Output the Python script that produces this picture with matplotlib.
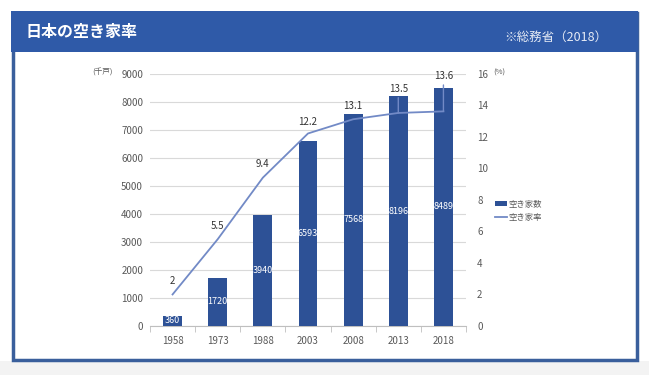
import matplotlib
matplotlib.use("Agg")
import matplotlib.pyplot as plt
from matplotlib.patches import Rectangle, Patch
from matplotlib.lines import Line2D
import numpy as np

plt.rcParams['font.family'] = ['Noto Sans CJK JP', 'DejaVu Sans']

years = ['1958', '1973', '1988', '2003', '2008', '2013', '2018']
vacant_houses = [360, 1720, 3940, 6593, 7568, 8196, 8489]
vacancy_rate = [2, 5.5, 9.4, 12.2, 13.1, 13.5, 13.6]
rate_labels = ['2', '5.5', '9.4', '12.2', '13.1', '13.5', '13.6']

title = '日本の空き家率'
source = '※総務省（2018）'

# label offsets in points above each point (Excel-style moved labels)
label_offsets = [6, 6, 6, 5, 6, 14, 22]
leader = [False, False, False, False, False, True, True]

W, H = 649, 375
fig = plt.figure(figsize=(W/100, H/100), dpi=100)
fig.patch.set_facecolor('white')

def fx(x): return x / W
def fy(y): return 1 - y / H

header_col = '#2F5AA8'
frame_col = '#3A5F9C'
bar_col = '#2D5196'
line_col = '#728AC6'
tick_col = '#595959'

fig.add_artist(Rectangle((0, 0), 1, fy(361), transform=fig.transFigure,
                         facecolor='#F3F3F3', edgecolor='none', zorder=0))
fig.add_artist(Rectangle((fx(12.5), fy(359.5)), fx(624), fy(13) - fy(359.5),
                         transform=fig.transFigure, facecolor='white',
                         edgecolor=frame_col, linewidth=2.5, zorder=1))
fig.add_artist(Rectangle((fx(11), fy(52)), fx(627), fy(11) - fy(52),
                         transform=fig.transFigure, facecolor=header_col,
                         edgecolor='none', zorder=2))
fig.text(fx(26), fy(32), title, color='white', fontsize=11.5, fontweight='bold',
         va='center', ha='left', zorder=3)
fig.text(fx(607), fy(37), source, color='#E6EBF5', fontsize=9,
         va='center', ha='right', zorder=3)

ax = fig.add_axes([fx(150), fy(326), fx(466) - fx(150), fy(73.5) - fy(326)])
ax.set_zorder(5)
x = np.arange(len(years))
ax.bar(x, vacant_houses, width=0.42, color=bar_col, zorder=3)
for xi, v in zip(x, vacant_houses):
    ax.text(xi, v / 2, str(v), color='white', fontsize=6.5, ha='center',
            va='center', zorder=4)
ax.set_ylim(0, 9000)
ax.set_xlim(-0.5, len(years) - 0.5)
ax.set_yticks(range(0, 9001, 1000))
ax.yaxis.grid(True, color='#D9D9D9', linewidth=0.8, zorder=0)
ax.set_axisbelow(True)
for s in ['top', 'right', 'left']:
    ax.spines[s].set_visible(False)
ax.spines['bottom'].set_color('#BFBFBF')
ax.set_xticks(x)
ax.set_xticklabels(years)
ax.set_xticks(np.arange(-0.5, len(years), 1), minor=True)
ax.tick_params(axis='x', which='major', length=0, pad=7, labelsize=7, labelcolor=tick_col)
ax.tick_params(axis='x', which='minor', length=4, color='#BFBFBF', direction='out')
ax.tick_params(axis='y', length=0, pad=5, labelsize=7, labelcolor=tick_col)
ax.patch.set_alpha(0)

ax2 = ax.twinx()
ax2.plot(x, vacancy_rate, color=line_col, linewidth=1.3, zorder=5)
for xi, v, lab, off, ld in zip(x, vacancy_rate, rate_labels, label_offsets, leader):
    kw = {}
    if ld:
        kw['arrowprops'] = dict(arrowstyle='-', color=line_col, linewidth=1.0,
                                shrinkA=1, shrinkB=0)
    ax2.annotate(lab, (xi, v), xytext=(0, off), textcoords='offset points',
                 ha='center', va='bottom', fontsize=7, color='#333333', **kw)
ax2.set_ylim(0, 16)
ax2.set_yticks(range(0, 17, 2))
for s in ['top', 'right', 'left', 'bottom']:
    ax2.spines[s].set_visible(False)
ax2.tick_params(axis='y', length=0, pad=8, labelsize=7, labelcolor=tick_col)

fig.text(fx(103), fy(73), '(千戸)', fontsize=5.5, color=tick_col, ha='center', va='center')
fig.text(fx(499), fy(73), '(%)', fontsize=5.5, color=tick_col, ha='center', va='center')

handles = [Patch(facecolor=bar_col, edgecolor='none'),
           Line2D([0], [0], color=line_col, linewidth=1.3)]
fig.legend(handles, ['空き家数', '空き家率'], loc='upper left',
           bbox_to_anchor=(fx(487), fy(192)), frameon=False, fontsize=6,
           handlelength=1.5, handleheight=0.6, handletextpad=0.2,
           labelspacing=0.5, labelcolor=tick_col)

fig.savefig('out.png', dpi=100)
